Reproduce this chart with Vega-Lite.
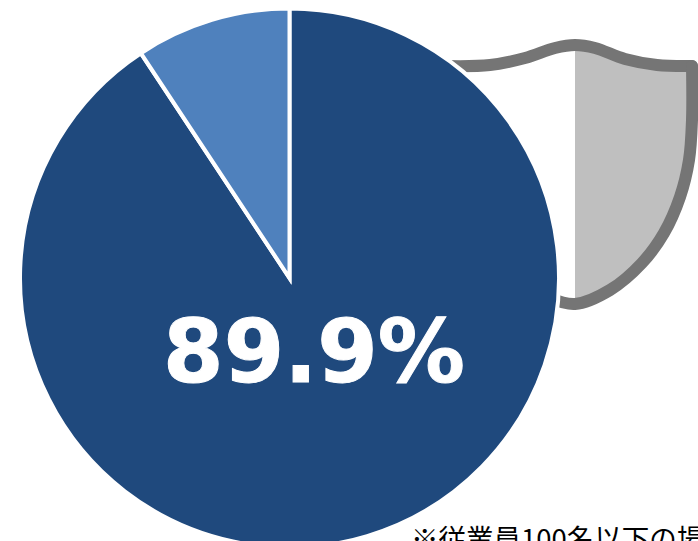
{
"$schema":"https://vega.github.io/schema/vega-lite/v6.json",
"width":698,"height":541,"padding":0,"autosize":{"type":"none"},
"background":"white",
"config":{"view":{"stroke":null}},
"datasets":{
"fill":[{"x":575,"t":46,"b":303},{"x":597,"t":50,"b":296},{"x":610,"t":55,"b":290},{"x":627,"t":60,"b":277},{"x":642,"t":63,"b":263},{"x":664,"t":66,"b":233},{"x":680,"t":66,"b":197},{"x":690,"t":66,"b":160},{"x":693,"t":66,"b":120}],
"outline":[
{"s":"top","o":1,"x":445,"y":66},{"s":"top","o":2,"x":490,"y":65},{"s":"top","o":3,"x":525,"y":58},{"s":"top","o":4,"x":555,"y":48},{"s":"top","o":5,"x":575,"y":45},{"s":"top","o":6,"x":595,"y":48},{"s":"top","o":7,"x":625,"y":59},{"s":"top","o":8,"x":657,"y":65},{"s":"top","o":9,"x":692,"y":66},
{"s":"side","o":1,"x":692,"y":66},{"s":"side","o":2,"x":692,"y":120},{"s":"side","o":3,"x":689,"y":160},{"s":"side","o":4,"x":680,"y":197},{"s":"side","o":5,"x":664,"y":233},{"s":"side","o":6,"x":642,"y":263},{"s":"side","o":7,"x":610,"y":290},{"s":"side","o":8,"x":575,"y":304},{"s":"side","o":9,"x":550,"y":298}],
"pie":[{"k":"a","v":90.7,"cx":289.5,"cy":278},{"k":"b","v":9.3,"cx":289.5,"cy":278}],
"labels":[{"t":"89.9%","x":314,"y":356}],
"notes":[{"t":"※従業員100名以下の場合","x":411,"y":549}]
},
"layer":[
{"data":{"name":"fill"},"mark":{"type":"area","interpolate":"monotone","fill":"#BFBFBF"},
 "encoding":{"x":{"field":"x","type":"quantitative","scale":{"domain":[0,698]},"axis":null},"y":{"field":"t","type":"quantitative","scale":{"domain":[541,0]},"axis":null},"y2":{"field":"b"}}},
{"data":{"name":"outline"},"mark":{"type":"line","interpolate":"catmull-rom","stroke":"#757575","strokeWidth":12,"strokeCap":"round"},
 "encoding":{"x":{"field":"x","type":"quantitative","scale":{"domain":[0,698]},"axis":null},"y":{"field":"y","type":"quantitative","scale":{"domain":[541,0]},"axis":null},"detail":{"field":"s"},"order":{"field":"o","type":"ordinal"}}},
{"data":{"name":"pie"},"mark":{"type":"arc","radius":269.5,"stroke":"white","strokeWidth":4},
 "encoding":{"x":{"field":"cx","type":"quantitative","scale":{"domain":[0,698]},"axis":null},"y":{"field":"cy","type":"quantitative","scale":{"domain":[541,0]},"axis":null},"theta":{"field":"v","type":"quantitative","stack":true},"order":{"field":"k"},"color":{"field":"k","type":"nominal","legend":null,"scale":{"domain":["a","b"],"range":["#1F497D","#4F81BD"]}}}},
{"data":{"name":"labels"},"mark":{"type":"text","font":"DejaVu Sans","fontWeight":"bold","fontSize":87,"color":"white","stroke":"white","strokeWidth":1,"align":"center","baseline":"middle"},
 "encoding":{"x":{"field":"x","type":"quantitative","scale":{"domain":[0,698]},"axis":null},"y":{"field":"y","type":"quantitative","scale":{"domain":[541,0]},"axis":null},"text":{"field":"t"}}},
{"data":{"name":"notes"},"mark":{"type":"text","font":"Noto Sans CJK JP","fontSize":27.5,"color":"#000000","align":"left","baseline":"alphabetic"},
 "encoding":{"x":{"field":"x","type":"quantitative","scale":{"domain":[0,698]},"axis":null},"y":{"field":"y","type":"quantitative","scale":{"domain":[541,0]},"axis":null},"text":{"field":"t"}}}
]
}
